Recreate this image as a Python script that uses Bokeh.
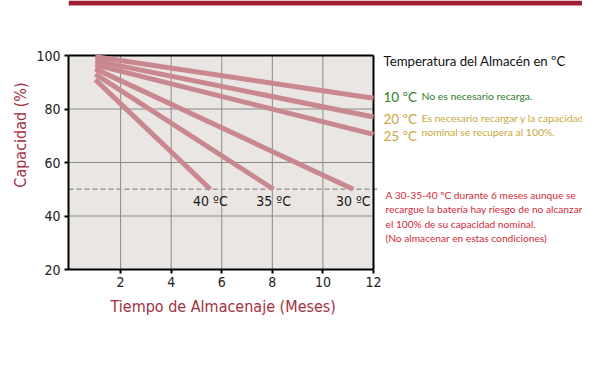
from bokeh.plotting import figure
from bokeh.models import Range1d, Label, FixedTicker, Title
from bokeh.embed import file_html
from bokeh.resources import INLINE

# ---- data ----
temps = ["10 ºC", "20 ºC", "25 ºC", "30 ºC", "35 ºC", "40 ºC"]
start_month = [1, 1, 1, 1, 1, 1]
start_cap = [99.5, 98.0, 96.5, 95.0, 93.0, 91.0]
end_month = [12, 12, 12, 11.2, 8.05, 5.55]
end_cap = [84.0, 77.0, 70.5, 50.0, 50.0, 50.0]
limit_cap = 50
x_ticks = [2, 4, 6, 8, 10, 12]
y_ticks = [20, 40, 60, 80, 100]
legend_title = "Temperatura del Almacén en ºC"
note_cold = "No es necesario recarga."
note_warm = ["Es necesario recargar y la capacidad", "nominal se recupera al 100%."]
note_hot = ["A 30-35-40 ºC durante 6 meses aunque se",
            "recargue la batería hay riesgo de no alcanzar",
            "el 100% de su capacidad nominal.",
            "(No almacenar en estas condiciones)"]

FONT = "DejaVu Sans Condensed"
SIDE_FONT = "Lato"
RED = "#9E1F31"
GREEN = "#2F7D2A"
GOLD = "#C9A73E"
HOT = "#D12A3C"
AXIS_RED = "#A3303F"

W, H = 582, 366
OFF_X, OFF_Y = 0, 0          # where the figure appears in the picture
PX_L, PX_R, PY_T, PY_B = 68, 373, 55, 269   # plotting box in the picture
FL = PX_L - OFF_X
FB_B = H - (PY_B - OFF_Y)
XMIN, XMAX = -0.06, x_ticks[-1]
Y0, Y1 = y_ticks[0], y_ticks[-1]
PPU_X = (PX_R - PX_L) / (XMAX - XMIN)
PPU_Y = (PY_B - PY_T) / (Y1 - Y0)
X1 = XMAX + (OFF_X + W - PX_R) / PPU_X      # frame runs to the right edge
YTOP = Y1 + (PY_T - OFF_Y) / PPU_Y           # frame runs to the top edge

p = figure(width=W, height=H, output_backend="svg", toolbar_location=None,
           x_range=Range1d(XMIN, X1), y_range=Range1d(Y0, YTOP),
           min_border_left=FL, min_border_right=0,
           min_border_top=0, min_border_bottom=FB_B)
p.background_fill_color = "white"
p.border_fill_color = "white"
p.outline_line_color = None
p.grid.visible = False

for ax in (p.xaxis[0], p.yaxis[0]):
    ax.axis_line_color = "black"
    ax.axis_line_width = 2
    ax.major_tick_line_color = "black"
    ax.major_tick_line_width = 2
    ax.major_tick_out = 4
    ax.major_tick_in = 0
    ax.minor_tick_line_color = None
    ax.major_label_text_font = FONT
    ax.major_label_text_font_size = "14px"
    ax.major_label_text_color = "#222222"
    ax.axis_label_text_font = FONT
    ax.axis_label_text_font_size = "16px"
    ax.axis_label_text_font_style = "normal"
    ax.axis_label_text_color = AXIS_RED

p.xaxis.ticker = FixedTicker(ticks=x_ticks)
p.yaxis.ticker = FixedTicker(ticks=y_ticks)
p.xaxis.bounds = (XMIN, XMAX)
p.yaxis.bounds = (Y0, Y1)
p.yaxis.axis_label = "Capacidad (%)"
p.xaxis.major_label_standoff = 3
p.yaxis.major_label_standoff = 4
p.yaxis.axis_label_standoff = 3

p.add_layout(Title(text="Tiempo de Almacenaje (Meses)", align="left", offset=42,
                   text_font=FONT, text_font_size="16px", text_font_style="normal",
                   text_color=AXIS_RED, standoff=10), "below")

# top band of the page frame
p.quad(left=[XMIN], right=[X1], bottom=[YTOP - 5 / PPU_Y], top=[YTOP],
       fill_color=RED, line_color=None)

# plotting box
p.quad(left=[XMIN], right=[XMAX], bottom=[Y0], top=[Y1],
       fill_color="#EAE6E3", line_color=None)
gx = x_ticks[:-1]
p.segment(x0=gx, y0=[Y0] * len(gx), x1=gx, y1=[Y1] * len(gx),
          line_color="#8a8a8a", line_width=1)
gy = y_ticks[1:-1]
p.segment(x0=[XMIN] * len(gy), y0=gy, x1=[XMAX] * len(gy), y1=gy,
          line_color="#8a8a8a", line_width=1)
p.segment(x0=[XMIN], y0=[limit_cap], x1=[XMAX + 0.15], y1=[limit_cap],
          line_color="#9a9a9a", line_width=1.5, line_dash="5 3")
p.segment(x0=[XMIN, XMAX], y0=[Y1, Y0], x1=[XMAX, XMAX], y1=[Y1, Y1],
          line_color="black", line_width=2)

# curves
p.segment(x0=start_month, y0=start_cap, x1=end_month, y1=end_cap,
          line_color="#C98790", line_width=5)

for t, xm, ym in zip(temps[3:], end_month[3:], end_cap[3:]):
    p.add_layout(Label(x=xm, y=ym, text=t, text_font=FONT, text_font_size="14px",
                       text_color="#1a1a1a", text_align="center",
                       text_baseline="top", y_offset=-4))

def dx(px):
    return XMIN + (px - PX_L) / PPU_X

def dy(py):
    return Y1 - (py - PY_T) / PPU_Y

def txt(px, py, s, size, color, font=SIDE_FONT):
    p.add_layout(Label(x=dx(px), y=dy(py), text=s, text_font=font,
                       text_font_size=size, text_color=color,
                       text_baseline="middle", text_align="left"))

txt(383, 60, legend_title, "13.2px", "#111111")
txt(383, 96, temps[0], "13.5px", GREEN)
txt(421, 95, note_cold, "10.4px", GREEN)
txt(383, 118, temps[1], "13.5px", GOLD)
txt(383, 135, temps[2], "13.5px", GOLD)
txt(421, 117, note_warm[0], "10.4px", GOLD)
txt(421, 131, note_warm[1], "10.4px", GOLD)
for i, s in enumerate(note_hot):
    txt(385, 194 + i * 14.5, s, "10.2px", HOT)

open("out.html", "w").write(file_html(p, INLINE))
